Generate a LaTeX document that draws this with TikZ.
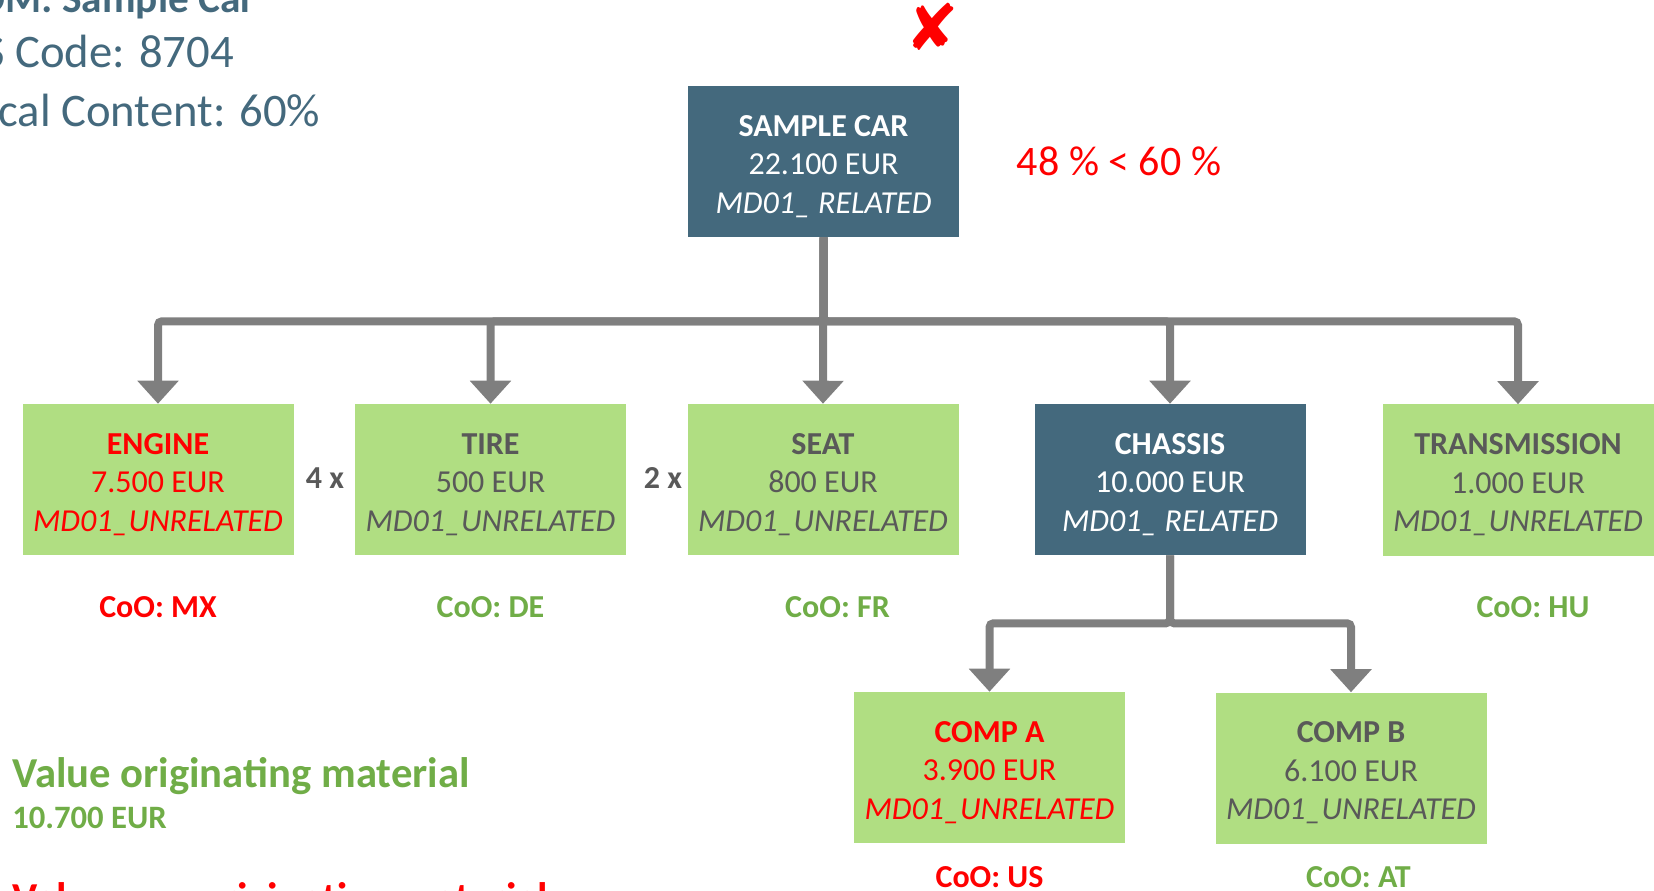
\documentclass[tikz,border=0pt]{standalone}
\usepackage{fontspec}
\setmainfont{Carlito}
\newfontfamily\symfont{DejaVu Sans}
\usetikzlibrary{arrows.meta}

\definecolor{partblue}{RGB}{68,105,125}
\definecolor{partgreen}{RGB}{176,222,130}
\definecolor{textgray}{RGB}{89,89,89}
\definecolor{coogreen}{RGB}{112,173,71}
\definecolor{linkgray}{RGB}{127,127,127}

\newcommand\boxfont{\fontsize{24pt}{28.9pt}\selectfont}
\newcommand\headfont{\fontsize{35pt}{42pt}\selectfont}
\newcommand\sumfont{\fontsize{32pt}{38pt}\selectfont\bfseries}
% name, value, classification
\newcommand\partlines[3]{\rule{0pt}{23pt}\textbf{#1}\\#2\\\textit{#3}}

\begin{document}
\begin{tikzpicture}[x=0.75pt, y=-0.75pt,
  part/.style={minimum width=203.25pt, minimum height=113.25pt, inner sep=0pt,
    align=center, font=\boxfont},
  greenpart/.style={part, fill=partgreen, text=textgray},
  bluepart/.style={part, fill=partblue, text=white},
  coo/.style={font=\boxfont\bfseries, text=coogreen},
  times/.style={font=\boxfont\bfseries, text=textgray},
  link/.style={draw=linkgray, line width=6pt, rounded corners=3pt,
    -{Triangle[width=30pt, length=17.25pt]}}]

\useasboundingbox (0,0) rectangle (1654,891);
\clip (0,0) rectangle (1654,891);

% --- header (cut at the left edge) ---
\node[anchor=base west, inner sep=0pt, text=partblue,
  font=\fontsize{31pt}{38pt}\selectfont\bfseries]
  (bom) at (-46, 13) {BOM: Sample Car};
\node[anchor=base west, inner sep=0pt, text=partblue, font=\headfont]
  (hscode) at (-46, 68) {HS Code: 8704};
\node[anchor=base west, inner sep=0pt, text=partblue, font=\headfont]
  (local) at (-46, 127) {Local Content: 60\%};

\node[text=red, font=\symfont\fontsize{48pt}{48pt}\selectfont, inner sep=0pt]
  (cross) at (932, 27) {✘};

% --- top level ---
\node[bluepart] (car) at (823.5, 161.5)
  {\partlines{SAMPLE CAR}{22.100 EUR}{MD01\_ RELATED}};
\node[text=red, font=\fontsize{31.5pt}{36pt}\selectfont] (ratio) at (1119, 161)
  {48 \% < 60 \%};

% --- parts ---
\node[greenpart, text=red] (engine) at (158, 479.5)
  {\partlines{ENGINE}{7.500 EUR}{MD01\_UNRELATED}};
\node[greenpart] (tire) at (490.5, 479.5)
  {\partlines{TIRE}{500 EUR}{MD01\_UNRELATED}};
\node[greenpart] (seat) at (823, 479.5)
  {\partlines{SEAT}{800 EUR}{MD01\_UNRELATED}};
\node[bluepart] (chassis) at (1170, 479.5)
  {\partlines{CHASSIS}{10.000 EUR}{MD01\_ RELATED}};
\node[greenpart] (transm) at (1518, 480)
  {\partlines{TRANSMISSION}{1.000 EUR}{MD01\_UNRELATED}};

\node[times] (tiremult) at (325, 478) {4 x};
\node[times] (seatmult) at (663, 478) {2 x};

% --- chassis components ---
\node[greenpart, text=red] (compa) at (989.5, 767.5)
  {\partlines{COMP A}{3.900 EUR}{MD01\_UNRELATED}};
\node[greenpart] (compb) at (1351, 768)
  {\partlines{COMP B}{6.100 EUR}{MD01\_UNRELATED}};

% --- countries of origin ---
\node[coo, text=red] (cooengine) at (158, 607.5) {CoO: MX};
\node[coo] (cootire) at (490.5, 607.5) {CoO: DE};
\node[coo] (cooseat) at (837.5, 607.5) {CoO: FR};
\node[coo] (cootransm) at (1533, 607.5) {CoO: HU};
\node[coo, text=red] (coocompa) at (989.5, 877) {CoO: US};
\node[coo] (coocompb) at (1358.5, 877) {CoO: AT};

% --- connectors ---
\draw[link] (car.south) -- ++(0,84) -| (engine.north);
\draw[link] (car.south) -- ++(0,84) -| (tire.north);
\draw[link] (car.south) -- (seat.north);
\draw[link] (car.south) -- ++(0,84) -| (chassis.north);
\draw[link] (car.south) -- ++(0,84) -| (transm.north);
\draw[link] (chassis.south) -- ++(0,68) -| (compa.north);
\draw[link] (chassis.south) -- ++(0,68) -| (compb.north);

% --- totals ---
\node[anchor=base west, inner sep=0pt, text=coogreen, font=\sumfont]
  (origin) at (12, 787) {Value originating material};
\node[anchor=base west, inner sep=0pt, text=coogreen,
  font=\fontsize{24.5pt}{30pt}\selectfont\bfseries]
  (originsum) at (12, 828) {10.700 EUR};
\node[anchor=base west, inner sep=0pt, text=red, font=\sumfont]
  (nonorigin) at (12, 912) {Value non originating material};

\end{tikzpicture}
\end{document}
